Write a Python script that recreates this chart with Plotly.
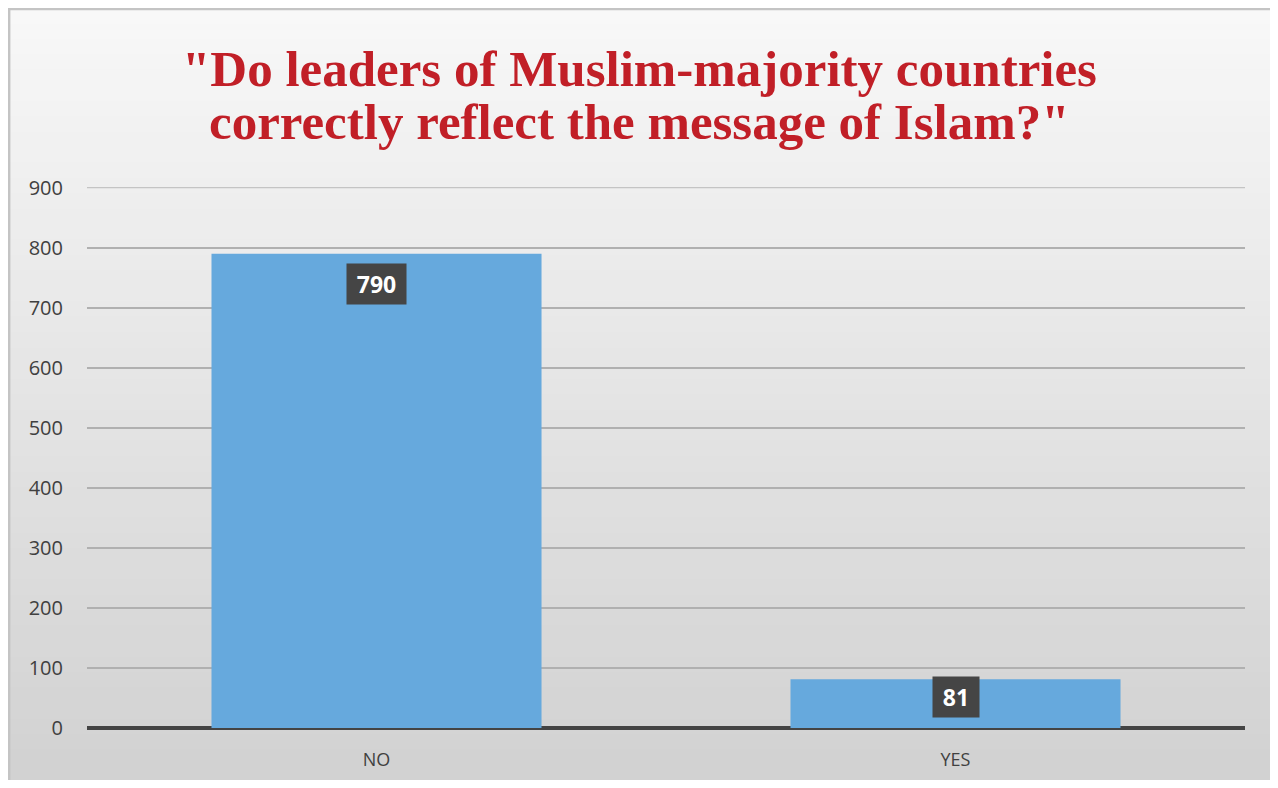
import plotly.graph_objects as go

answers = ["NO", "YES"]
counts = [790, 81]
y_ticks = [0, 100, 200, 300, 400, 500, 600, 700, 800, 900]

title_lines = ['"Do leaders of Muslim-majority countries',
               'correctly reflect the message of Islam?"']

# plot area in figure pixels (page body adds an 8px margin)
W, H = 1262, 772
L, R, T, B = 79, 25, 179, 52
pw, ph = W - L - R, H - T - B

fig = go.Figure()

fig.add_trace(go.Bar(
    x=answers,
    y=counts,
    width=0.57,
    marker=dict(color="#66a9dd", line=dict(width=0)),
    hoverinfo="x+y",
))

# value labels in dark boxes, like the spreadsheet data callouts
label_shift = [-30, -18]
for ans, val, shift in zip(answers, counts, label_shift):
    fig.add_annotation(
        x=ans, y=val, text=f"<b>{val}</b>", showarrow=False,
        yshift=shift, font=dict(family="Open Sans", size=23, color="white"),
        bgcolor="#454545", borderpad=5,
        width=13 * len(str(val)) + 10, height=30,
    )

# title as two annotations so the line spacing can be tight
for line, fy in zip(title_lines, [61, 114]):
    fig.add_annotation(
        text=f"<b>{line}</b>", xref="paper", yref="paper",
        x=0.5 - (L - R) / 2 / pw, y=1 + (T - fy) / ph,
        xanchor="center", yanchor="middle", showarrow=False,
        font=dict(family="Liberation Serif", size=51, color="#c11f27"),
    )

# soft vertical gradient for the background (light top -> grey bottom)
y_bot, y_top = -B / ph, 1 + T / ph
n_bands = 50
for i in range(n_bands):
    t = i / (n_bands - 1)
    c = int(248 - t * (248 - 210))
    fig.add_shape(
        type="rect", xref="paper", yref="paper", layer="below",
        x0=-L / pw, x1=1 + R / pw,
        y0=y_top - (i + 1) * (y_top - y_bot) / n_bands - 0.002,
        y1=y_top - i * (y_top - y_bot) / n_bands,
        fillcolor=f"rgb({c},{c},{c})", line=dict(width=0),
    )

# top gridline (plotly drops the one on the range edge)
fig.add_shape(type="line", xref="paper", yref="y", layer="below",
              x0=0, x1=1, y0=y_ticks[-1], y1=y_ticks[-1],
              line=dict(color="#c4c4c4", width=1.5))

# frame on the left and top edges
frame = dict(color="#c4c4c4", width=2.5)
fig.add_shape(type="line", xref="paper", yref="paper", layer="below",
              x0=-L / pw + 0.001, x1=-L / pw + 0.001, y0=y_bot, y1=y_top, line=frame)
fig.add_shape(type="line", xref="paper", yref="paper", layer="below",
              x0=-L / pw, x1=1 + R / pw, y0=y_top - 0.002, y1=y_top - 0.002, line=frame)

fig.update_layout(
    width=W,
    height=H,
    margin=dict(l=L, r=R, t=T, b=B, autoexpand=False),
    paper_bgcolor="#e6e6e6",
    plot_bgcolor="rgba(0,0,0,0)",
    showlegend=False,
    xaxis=dict(
        showgrid=False,
        tickfont=dict(family="Open Sans", size=18, color="#404040"),
        ticks="",
        showline=False,
        ticklabelstandoff=19,
        automargin=False,
    ),
    yaxis=dict(
        range=[0, 901],
        tickvals=y_ticks,
        tickfont=dict(family="Open Sans", size=20, color="#404040"),
        gridcolor="#b0b0b0",
        gridwidth=1.5,
        zeroline=True,
        zerolinecolor="#444444",
        zerolinewidth=4,
        ticklabelstandoff=23,
        showline=False,
        automargin=False,
    ),
)

fig.write_html("out.html")
